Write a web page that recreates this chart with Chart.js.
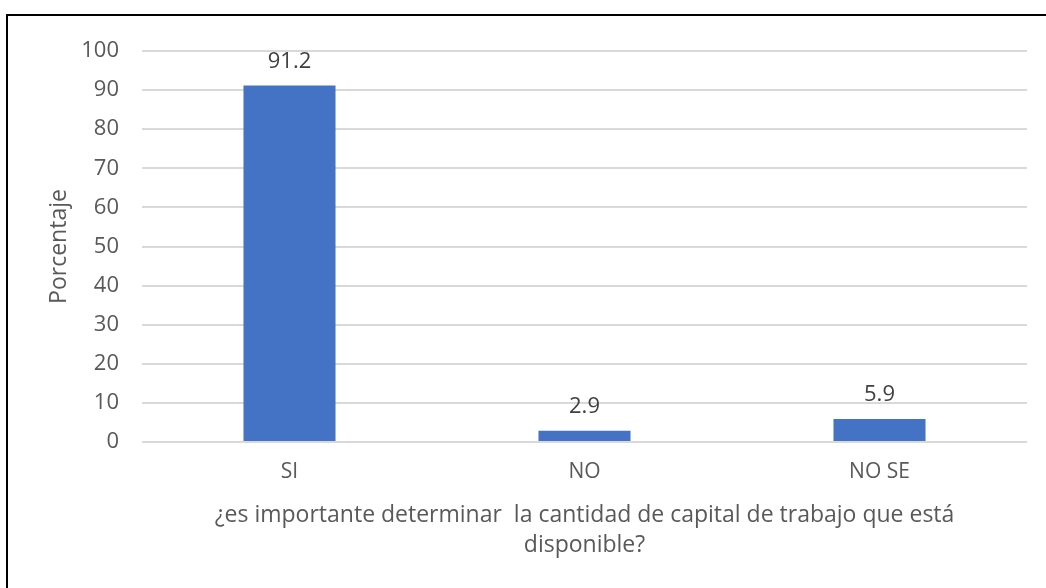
<!DOCTYPE html>
<html>
<head>
<meta charset="utf-8">
<script src="https://cdn.jsdelivr.net/npm/chart.js@4.4.1/dist/chart.umd.min.js"></script>
<style>
  html, body { margin: 0; padding: 0; background: #fff; overflow: hidden; }
  #wrap { position: relative; width: 1046px; height: 588px; }
  #frame {
    position: absolute; left: 6px; top: 14px; width: 2000px; height: 2000px;
    border-top: 2px solid #000; border-left: 2px solid #000; pointer-events: none;
  }
  canvas { position: absolute; left: 0; top: 0; }
</style>
</head>
<body>
<div id="wrap">
  <canvas id="chart" width="1046" height="588"></canvas>
  <div id="frame"></div>
</div>
<script>
// data
const categories = ['SI', 'NO', 'NO SE'];
const percentages = [91.2, 2.9, 5.9];
const yTitle = 'Porcentaje';
const xTitle = ['¿es importante determinar  la cantidad de capital de trabajo que está', 'disponible?'];

const FONT = 'Open Sans';

// draws the value above each bar
const valueLabels = {
  id: 'valueLabels',
  afterDatasetsDraw(chart) {
    const { ctx } = chart;
    const meta = chart.getDatasetMeta(0);
    ctx.save();
    ctx.font = `22px "${FONT}"`;
    ctx.fillStyle = '#404040';
    ctx.textAlign = 'center';
    ctx.textBaseline = 'middle';
    meta.data.forEach((bar, i) => {
      ctx.fillText(percentages[i].toFixed(1), bar.x, bar.y - 24);
    });
    ctx.restore();
  }
};

new Chart(document.getElementById('chart'), {
  type: 'bar',
  data: {
    labels: categories,
    datasets: [{
      data: percentages,
      backgroundColor: '#4472C4',
      borderWidth: 0,
      barPercentage: 0.312,
      categoryPercentage: 1
    }]
  },
  options: {
    responsive: false,
    animation: false,
    layout: { padding: { top: 51, right: 19, bottom: 0, left: 0 } },
    plugins: {
      legend: { display: false },
      tooltip: { enabled: false }
    },
    scales: {
      x: {
        afterFit: (s) => { s.height = 146; },
        grid: { display: false, drawTicks: false },
        border: { display: false },
        ticks: { color: '#595959', font: { family: FONT, size: 21 }, padding: 17 },
        title: {
          display: true,
          text: xTitle,
          color: '#595959',
          font: { family: FONT, size: 23, lineHeight: 1.3 },
          padding: { top: 0, bottom: 28 }
        }
      },
      y: {
        min: 0,
        max: 100,
        afterFit: (s) => { s.width = 142; },
        grid: { color: '#d9d9d9', lineWidth: 2, drawTicks: false },
        border: { display: false },
        ticks: { stepSize: 10, color: '#595959', font: { family: FONT, size: 22 }, padding: 23 },
        title: {
          display: true,
          text: yTitle,
          color: '#595959',
          font: { family: FONT, size: 23, lineHeight: 1.2 },
          padding: { top: 46, bottom: 0 }
        }
      }
    }
  },
  plugins: [valueLabels]
});
</script>
</body>
</html>
